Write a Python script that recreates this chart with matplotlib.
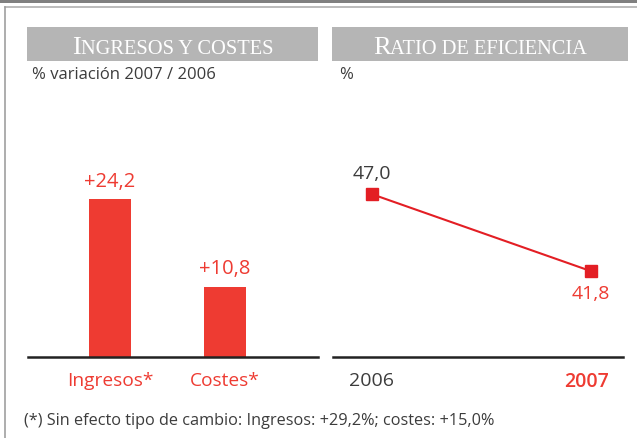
import matplotlib.pyplot as plt
from matplotlib.patches import Rectangle
from matplotlib.lines import Line2D

plt.rcParams['font.family'] = ['Open Sans', 'DejaVu Sans']

# data
bar_cats = ["Ingresos*", "Costes*"]
bar_vals = [24.2, 10.8]
bar_labels = ["+24,2", "+10,8"]

years = ["2006", "2007"]
ratio_vals = [47.0, 41.8]
ratio_labels = ["47,0", "41,8"]

footnote = "(*) Sin efecto tipo de cambio: Ingresos: +29,2%; costes: +15,0%"

RED = "#EE3B32"
LINE_RED = "#E31E24"
DARK = "#3C3C3C"
HEAD_GRAY = "#B5B5B5"

W, H = 637, 439
fig = plt.figure(figsize=(W / 100, H / 100), dpi=100)


def px(x0, y0, x1, y1):
    # pixel box (top-left origin) -> figure fraction rect
    return [x0 / W, 1 - y1 / H, (x1 - x0) / W, (y1 - y0) / H]


# frame decorations
fig.add_artist(Rectangle((0, 1 - 4 / H), 1, 4 / H, transform=fig.transFigure,
                         color="#808080", lw=0))
fig.add_artist(Line2D([4.5 / W, 1], [1 - 7.5 / H, 1 - 7.5 / H], transform=fig.transFigure,
                      color="#B0B0B0", lw=1.2))
fig.add_artist(Line2D([4.5 / W, 4.5 / W], [0, 1 - 7.5 / H], transform=fig.transFigure,
                      color="#A0A0A0", lw=1.2))

# header boxes with fake small caps
def header(x0, x1, big, small):
    fig.add_artist(Rectangle((x0 / W, 1 - 62 / H), (x1 - x0) / W, 34 / H,
                             transform=fig.transFigure, color=HEAD_GRAY, lw=0))
    t = fig.text(0, 0, big, fontsize=19, family="Liberation Serif", color="white")
    t2 = fig.text(0, 0, small, fontsize=14.7, family="Liberation Serif", color="white")
    fig.canvas.draw()
    r = fig.canvas.get_renderer()
    w1 = t.get_window_extent(r).width
    w2 = t2.get_window_extent(r).width
    xs = (x0 + x1) / 2 - (w1 + w2) / 2
    base = 1 - 54 / H
    t.set_position((xs / W, base))
    t2.set_position(((xs + w1) / W, base))
    t.set_va("baseline")
    t2.set_va("baseline")


header(27, 318, "I", "NGRESOS Y COSTES")
header(332, 628, "R", "ATIO DE EFICIENCIA")

fig.text(32 / W, 1 - 75 / H, "% variación 2007 / 2006", fontsize=12,
         color=DARK, va="center")
fig.text(339 / W, 1 - 75 / H, "%", fontsize=12, color=DARK, va="center")

# left: bar chart
ax1 = fig.add_axes(px(28, 140, 318, 358))
xpos = range(len(bar_vals))
ax1.bar(xpos, bar_vals, width=0.357, color=RED, zorder=2)
for i, (v, lab) in enumerate(zip(bar_vals, bar_labels)):
    ax1.annotate(lab, (i, v), xytext=(0, 6), textcoords="offset points",
                 ha="center", va="bottom", color=RED, fontsize=14.5)
    ax1.annotate(bar_cats[i], (i, 0), xytext=(0, -10), textcoords="offset points",
                 ha="center", va="top", color=RED, fontsize=13.8)
ax1.set_xlim(-0.713, 1.809)
ax1.set_ylim(0, 33.4)

# right: line chart
ax2 = fig.add_axes(px(333, 140, 623, 358))
xs = range(len(ratio_vals))
ax2.plot(xs, ratio_vals, color=LINE_RED, lw=1.5, marker="s", markersize=8, zorder=3)
ax2.annotate(ratio_labels[0], (0, ratio_vals[0]), xytext=(0, 9),
             textcoords="offset points", ha="center", va="bottom",
             color=DARK, fontsize=14)
ax2.annotate(ratio_labels[1], (1, ratio_vals[1]), xytext=(0, -9),
             textcoords="offset points", ha="center", va="top",
             color=RED, fontsize=14)
ax2.annotate(years[0], (0, 36), xytext=(0, -10), textcoords="offset points",
             ha="center", va="top", color=DARK, fontsize=14)
ax2.annotate(years[1], (1, 36), xytext=(-3, -10), textcoords="offset points",
             ha="center", va="top", color=RED, fontsize=14, fontweight="semibold")
ax2.set_xlim(-0.178, 1.146)
ax2.set_ylim(36, 50.73)

for ax in (ax1, ax2):
    for s in ("top", "left", "right"):
        ax.spines[s].set_visible(False)
    ax.spines["bottom"].set_linewidth(1.8)
    ax.spines["bottom"].set_color("#222222")
    ax.set_xticks([])
    ax.set_yticks([])
    ax.patch.set_alpha(0)

fig.text(24 / W, 1 - 421 / H, footnote, fontsize=11.7, color=DARK, va="center")

fig.savefig("out.png", dpi=100)
